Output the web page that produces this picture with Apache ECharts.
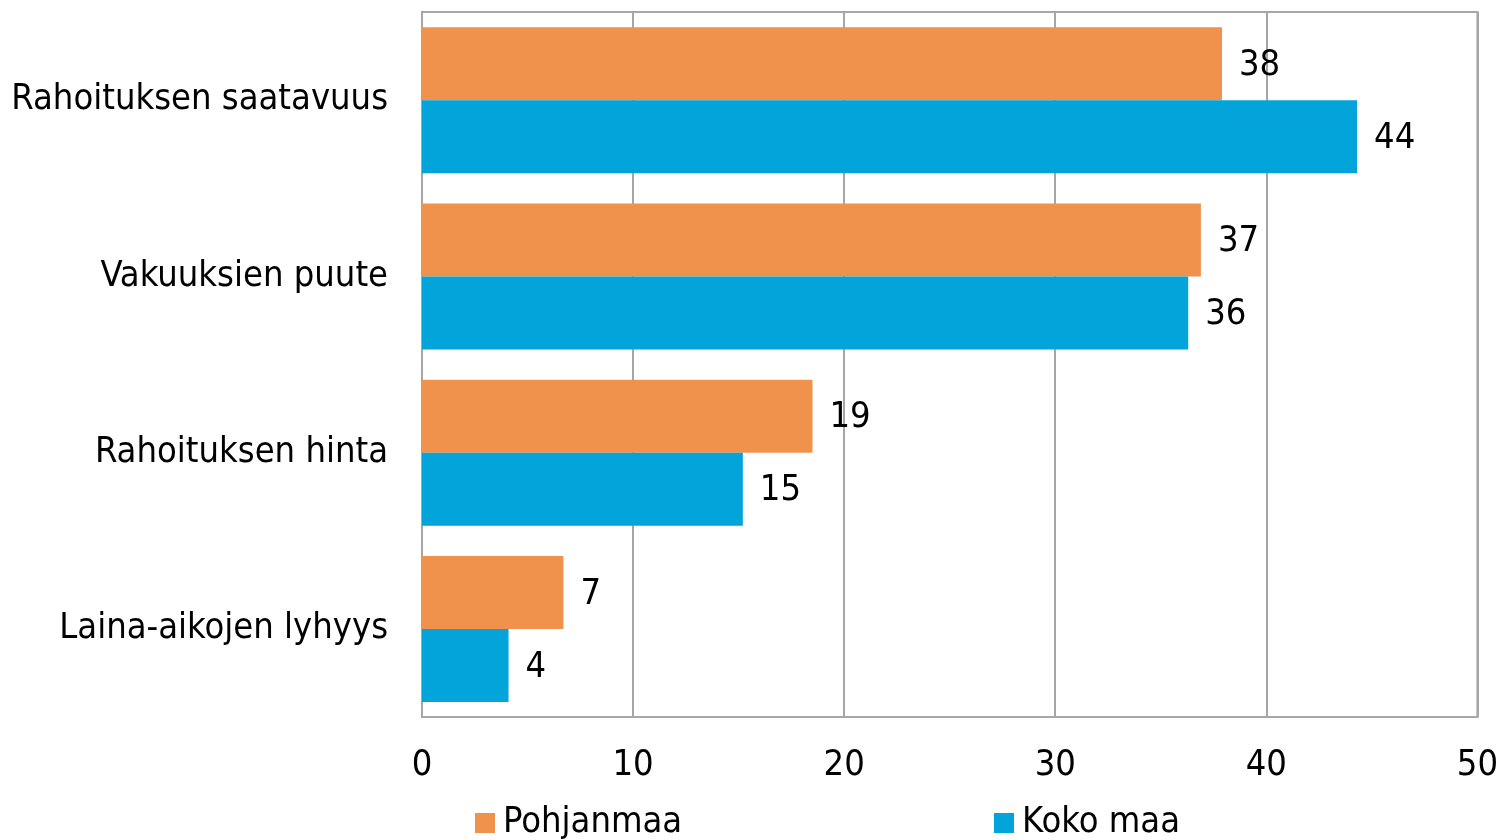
<!DOCTYPE html>
<html>
<head>
<meta charset="utf-8">
<script src="https://cdn.jsdelivr.net/npm/echarts@6/dist/echarts.min.js"></script>
<style>
html, body { margin: 0; padding: 0; background: #fff; }
#chart { width: 1501px; height: 840px; }
</style>
</head>
<body>
<div id="chart"></div>
<script>
var categories = ["Rahoituksen saatavuus", "Vakuuksien puute", "Rahoituksen hinta", "Laina-aikojen lyhyys"];
var pohjanmaa = [37.9, 36.9, 18.5, 6.7];
var kokoMaa = [44.3, 36.3, 15.2, 4.1];
var xTicks = [0, 10, 20, 30, 40, 50];

var fontFam = "DejaVu Sans Condensed";
var gridColor = "#a6a6a6";

var ech = echarts.init(document.getElementById("chart"));

function barLabel() {
    return {
        show: true,
        position: "right",
        distance: 17,
        offset: [0, 2],
        color: "#000",
        fontFamily: fontFam,
        fontSize: 36,
        formatter: function (p) {
            return Math.round(p.value);
        }
    };
}

function legendFor(name, x) {
    return {
        data: [name],
        left: x,
        top: 805,
        padding: 0,
        itemWidth: 20,
        itemHeight: 20,
        icon: "rect",
        textStyle: { fontFamily: fontFam, fontSize: 36, color: "#000", padding: [0, 0, 0, 3] }
    };
}

var option = {
    animation: false,
    backgroundColor: "#fff",
    grid: {
        left: 422,
        right: 23,
        top: 12,
        bottom: 123,
        show: true,
        borderColor: gridColor,
        borderWidth: 2
    },
    legend: [legendFor("Pohjanmaa", 475), legendFor("Koko maa", 994)],
    xAxis: {
        type: "value",
        min: xTicks[0],
        max: xTicks[xTicks.length - 1],
        interval: 10,
        axisLine: { show: true, lineStyle: { color: gridColor, width: 2 } },
        axisTick: { show: false },
        splitLine: { show: true, lineStyle: { color: gridColor, width: 2 } },
        axisLabel: {
            color: "#000",
            fontFamily: fontFam,
            fontSize: 36,
            margin: 31
        }
    },
    yAxis: {
        type: "category",
        inverse: true,
        data: categories,
        axisLine: { show: true, lineStyle: { color: gridColor, width: 2 } },
        axisTick: { show: false },
        axisLabel: {
            color: "#000",
            fontFamily: fontFam,
            fontSize: 36,
            margin: 34,
            padding: [6, 0, 0, 0]
        }
    },
    series: [
        {
            name: "Pohjanmaa",
            type: "bar",
            data: pohjanmaa,
            barWidth: 73,
            barGap: "0%",
            itemStyle: { color: "#f0924c" },
            label: barLabel()
        },
        {
            name: "Koko maa",
            type: "bar",
            data: kokoMaa,
            barWidth: 73,
            barGap: "0%",
            itemStyle: { color: "#02a4da" },
            label: barLabel()
        }
    ]
};
ech.setOption(option);
</script>
</body>
</html>
